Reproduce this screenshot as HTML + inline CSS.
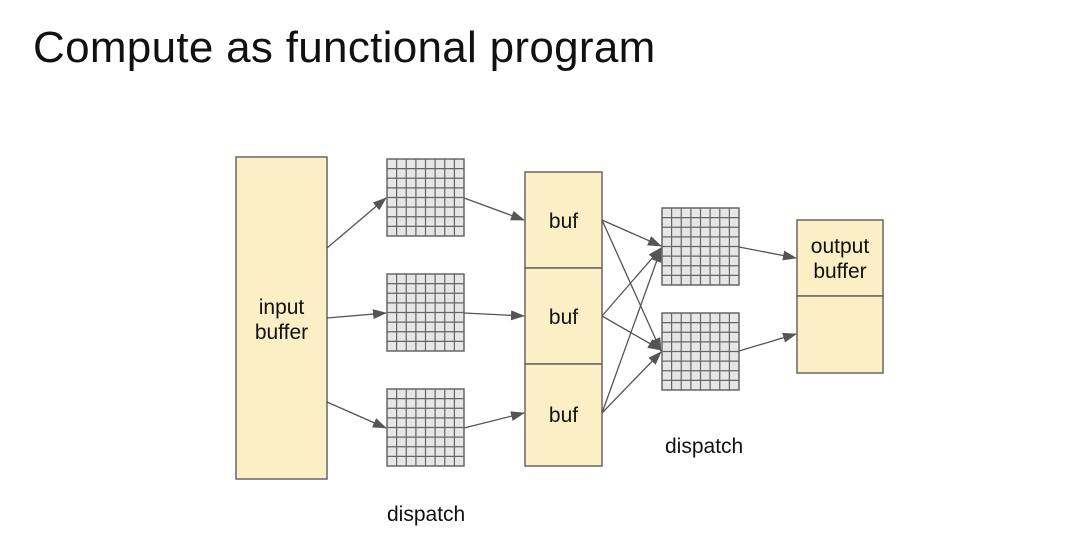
<!DOCTYPE html>
<html><head><style>
html,body{margin:0;padding:0;background:#fff;}
svg{display:block;}
text{font-family:"Liberation Sans",Arial,sans-serif;fill:#111;}
</style></head><body>
<svg width="1082" height="554" viewBox="0 0 1082 554" xmlns="http://www.w3.org/2000/svg">
<defs>
<marker id="a" markerWidth="14" markerHeight="10" refX="13" refY="5" orient="auto" markerUnits="userSpaceOnUse">
<path d="M0 0L14 5L0 10z" fill="#555"/>
</marker>
<g id="grid">
<rect x="0" y="0" width="77" height="77" fill="#e6e6e6"/>
<path d="M9.6 0V77M19.25 0V77M28.9 0V77M38.5 0V77M48.1 0V77M57.75 0V77M67.4 0V77M0 9.6H77M0 19.25H77M0 28.9H77M0 38.5H77M0 48.1H77M0 57.75H77M0 67.4H77" stroke="#666" stroke-width="1.2" fill="none"/>
<rect x="0" y="0" width="77" height="77" fill="none" stroke="#666" stroke-width="1.5"/>
</g>
</defs>
<text x="33" y="62" font-size="44" letter-spacing="0.3">Compute as functional program</text>

<rect x="236" y="157" width="91" height="322" fill="#fdefc5" stroke="#666" stroke-width="1.5"/>
<text x="281.5" y="314" font-size="21" text-anchor="middle">input</text>
<text x="281.5" y="339" font-size="21" text-anchor="middle">buffer</text>

<use href="#grid" x="387" y="159"/>
<use href="#grid" x="387" y="274"/>
<use href="#grid" x="387" y="389"/>

<rect x="525" y="172" width="77" height="96" fill="#fdefc5" stroke="#666" stroke-width="1.5"/>
<rect x="525" y="268" width="77" height="96" fill="#fdefc5" stroke="#666" stroke-width="1.5"/>
<rect x="525" y="364" width="77" height="102" fill="#fdefc5" stroke="#666" stroke-width="1.5"/>
<text x="563.5" y="228" font-size="21" text-anchor="middle">buf</text>
<text x="563.5" y="324" font-size="21" text-anchor="middle">buf</text>
<text x="563.5" y="422" font-size="21" text-anchor="middle">buf</text>

<use href="#grid" x="662" y="208"/>
<use href="#grid" x="662" y="313"/>

<rect x="797" y="220" width="86" height="76" fill="#fdefc5" stroke="#666" stroke-width="1.5"/>
<rect x="797" y="296" width="86" height="77" fill="#fdefc5" stroke="#666" stroke-width="1.5"/>
<text x="840" y="253" font-size="21" text-anchor="middle">output</text>
<text x="840" y="278" font-size="21" text-anchor="middle">buffer</text>

<g stroke="#555" stroke-width="1.3" fill="none" marker-end="url(#a)">
<line x1="327" y1="248" x2="386" y2="198"/>
<line x1="327" y1="318" x2="386" y2="313"/>
<line x1="327" y1="402" x2="386" y2="428"/>
<line x1="464" y1="198" x2="524" y2="220"/>
<line x1="464" y1="313" x2="524" y2="316"/>
<line x1="464" y1="428" x2="524" y2="413"/>
<line x1="602" y1="220" x2="661" y2="246"/>
<line x1="602" y1="220" x2="661" y2="351"/>
<line x1="602" y1="316" x2="661" y2="248"/>
<line x1="602" y1="316" x2="661" y2="350"/>
<line x1="602" y1="413" x2="661" y2="249"/>
<line x1="602" y1="413" x2="661" y2="352"/>
<line x1="739" y1="247" x2="796" y2="258"/>
<line x1="739" y1="351" x2="796" y2="334"/>
</g>

<text x="387" y="521" font-size="21">dispatch</text>
<text x="665" y="453" font-size="21">dispatch</text>
</svg>
</body></html>
